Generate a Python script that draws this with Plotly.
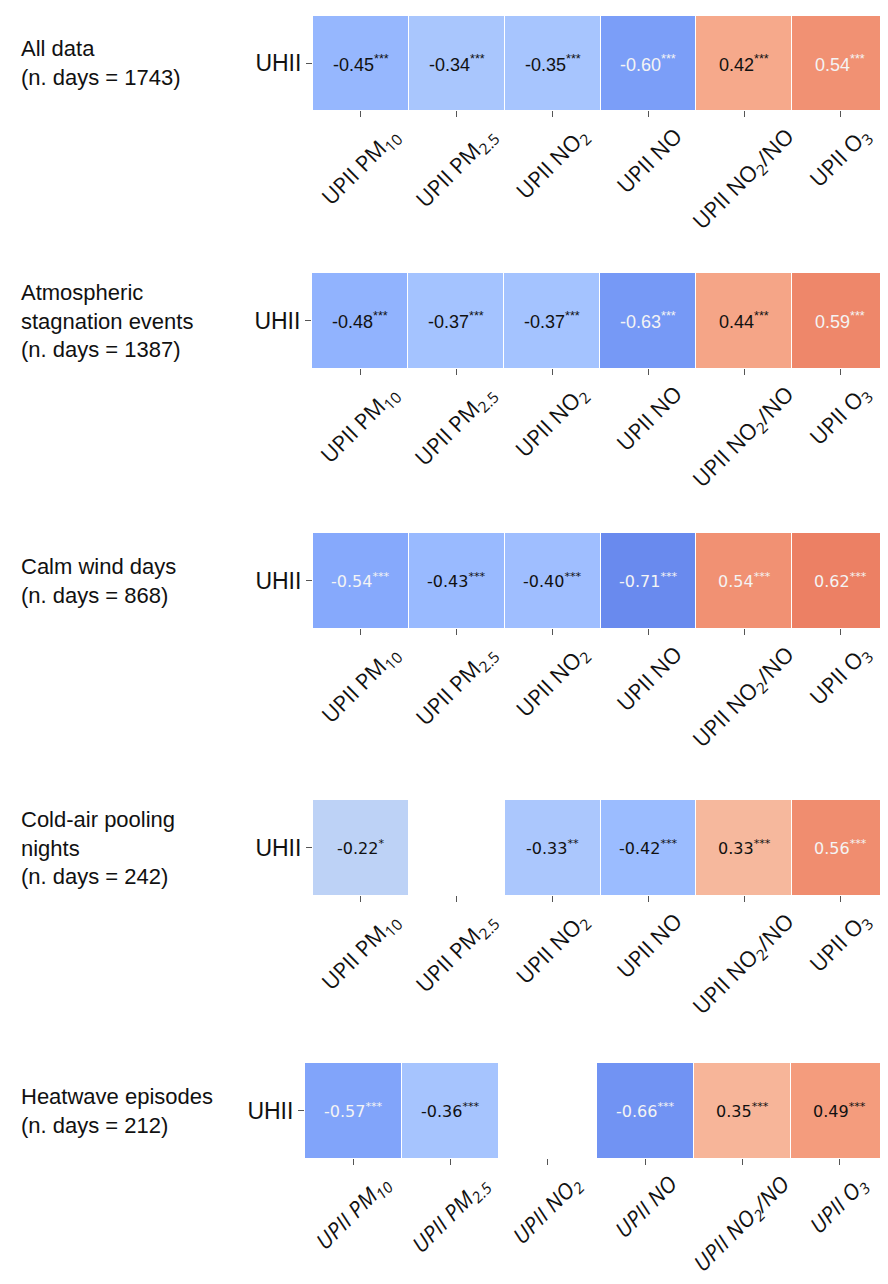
import plotly.graph_objects as go

# ---------------- data ----------------
pollutants = ["UPII PM<sub>10</sub>", "UPII PM<sub>2.5</sub>", "UPII NO<sub>2</sub>",
              "UPII NO", "UPII NO<sub>2</sub>/NO", "UPII O<sub>3</sub>"]
row_label = "UHII"

panel_titles = [
    "All data<br>(n. days = 1743)",
    "Atmospheric<br>stagnation events<br>(n. days = 1387)",
    "Calm wind days<br>(n. days = 868)",
    "Cold-air pooling<br>nights<br>(n. days = 242)",
    "Heatwave episodes<br>(n. days = 212)",
]

r_all = [-0.45, -0.34, -0.35, -0.60, 0.42, 0.54]
r_stagnation = [-0.48, -0.37, -0.37, -0.63, 0.44, 0.59]
r_calm = [-0.54, -0.43, -0.40, -0.71, 0.54, 0.62]
r_cold_pool = [-0.22, None, -0.33, -0.42, 0.33, 0.56]
r_heatwave = [-0.57, -0.36, None, -0.66, 0.35, 0.49]

sig_all = ["***", "***", "***", "***", "***", "***"]
sig_stagnation = ["***", "***", "***", "***", "***", "***"]
sig_calm = ["***", "***", "***", "***", "***", "***"]
sig_cold_pool = ["*", "", "**", "***", "***", "***"]
sig_heatwave = ["***", "***", "", "***", "***", "***"]

values = [r_all, r_stagnation, r_calm, r_cold_pool, r_heatwave]
sigs = [sig_all, sig_stagnation, sig_calm, sig_cold_pool, sig_heatwave]

# ---------------- styling ----------------
coolwarm = [
    [0.0, "rgb(59,76,192)"], [0.0625, "rgb(77,104,215)"], [0.125, "rgb(98,130,234)"],
    [0.1875, "rgb(119,154,247)"], [0.25, "rgb(141,176,254)"], [0.3125, "rgb(163,194,255)"],
    [0.375, "rgb(184,208,249)"], [0.4375, "rgb(204,217,238)"], [0.5, "rgb(221,221,221)"],
    [0.5625, "rgb(236,211,197)"], [0.625, "rgb(245,196,172)"], [0.6875, "rgb(247,177,148)"],
    [0.75, "rgb(244,154,123)"], [0.8125, "rgb(236,127,99)"], [0.875, "rgb(222,96,77)"],
    [0.9375, "rgb(203,62,56)"], [1.0, "rgb(180,4,38)"],
]

W, H = 888, 1284
OFF = 8  # page body margin
# screen-pixel boxes (left, right, top, bottom) of each heatmap
boxes = [
    (313, 888, 16, 110),
    (312, 888, 273, 368),
    (313, 888, 533, 628),
    (313, 888, 800, 895),
    (305, 888, 1063, 1158),
]
num_fonts = ["Liberation Sans, Arial", "Liberation Sans, Arial", "DejaVu Sans",
             "DejaVu Sans", "DejaVu Sans"]
num_sizes = [18, 18, 16, 16, 16]


def px(x):
    return (x - OFF) / W


def py(y):
    return 1 - (y - OFF) / H


fig = go.Figure()
annotations = []
for i, (vals, sg, box) in enumerate(zip(values, sigs, boxes)):
    n = "" if i == 0 else str(i + 1)
    xa, ya = "x" + n, "y" + n
    fig.add_trace(go.Heatmap(
        z=[vals], x=list(range(len(pollutants))), y=[row_label],
        zmin=-1, zmax=1, colorscale=coolwarm, showscale=False, xgap=1,
        xaxis=xa, yaxis=ya, hoverinfo="skip"))
    l, r, t, b = box
    italic = (i == 4)
    fig.layout["xaxis" + n] = dict(
        domain=[px(l), min(1.0, px(r))], anchor=ya, range=[-0.5, len(pollutants) - 0.5],
        tickmode="array", tickvals=list(range(len(pollutants))), showticklabels=False,
        ticks="outside", ticklen=6, tickcolor="#555",
        showgrid=False, zeroline=False, showline=False, automargin=False)
    fig.layout["yaxis" + n] = dict(
        domain=[py(b), py(t)], anchor=xa,
        ticks="outside", ticklen=6, tickcolor="#555",
        showgrid=False, zeroline=False, showline=False, automargin=False,
        tickfont=dict(family="Liberation Sans, Arial", size=23, color="#111"))
    # rotated category labels, centred under each tick
    for j, p in enumerate(pollutants):
        annotations.append(dict(
            x=j, xref=xa, y=py(b + 9), yref="paper", xanchor="center", yanchor="top",
            text=f"<i>{p}</i>" if italic else p, textangle=-45, showarrow=False,
            borderpad=0, font=dict(family="Open Sans", size=22, color="#111")))
    for j, (v, s) in enumerate(zip(vals, sg)):
        if v is None:
            continue
        txt = f"{v:.2f}" + (f"<sup>{s}</sup>" if s else "")
        annotations.append(dict(
            x=j, y=row_label, xref=xa, yref=ya, text=txt, showarrow=False,
            font=dict(family=num_fonts[i], size=num_sizes[i],
                      color="#f4f4f4" if abs(v) >= 0.5 else "#111")))
    annotations.append(dict(
        x=px(19), xref="paper", xanchor="left", y=row_label, yref=ya, yanchor="middle",
        text=panel_titles[i], showarrow=False, align="left",
        font=dict(family="Liberation Sans, Arial", size=22, color="#111")))

fig.update_layout(
    width=W, height=H, margin=dict(l=0, r=0, t=0, b=0, autoexpand=False),
    paper_bgcolor="white", plot_bgcolor="white",
    annotations=annotations, showlegend=False)

fig.write_html("out.html")
